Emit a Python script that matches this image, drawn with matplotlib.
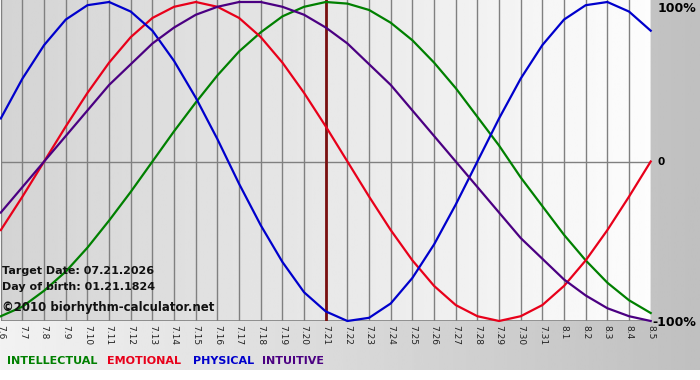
import numpy as np
import matplotlib
matplotlib.use("Agg")
import matplotlib.pyplot as plt

# day labels 7.6 .. 8.5
dates = ["7.%d" % d for d in range(6, 32)] + ["8.%d" % d for d in range(1, 6)]

intellectual = [-0.97, -0.91, -0.81, -0.69, -0.54, -0.37, -0.19, 0.00, 0.19, 0.37, 0.54,
                0.69, 0.81, 0.91, 0.97, 1.00, 0.99, 0.95, 0.87, 0.76, 0.62, 0.46, 0.28,
                0.10, -0.10, -0.28, -0.46, -0.62, -0.76, -0.87, -0.95]
emotional = [-0.43, -0.22, 0.00, 0.22, 0.43, 0.62, 0.78, 0.90, 0.97, 1.00, 0.97, 0.90,
             0.78, 0.62, 0.43, 0.22, 0.00, -0.22, -0.43, -0.62, -0.78, -0.90, -0.97,
             -1.00, -0.97, -0.90, -0.78, -0.62, -0.43, -0.22, 0.00]
physical = [0.27, 0.52, 0.73, 0.89, 0.98, 1.00, 0.94, 0.82, 0.63, 0.40, 0.14, -0.14,
            -0.40, -0.63, -0.82, -0.94, -1.00, -0.98, -0.89, -0.73, -0.52, -0.27, 0.00,
            0.27, 0.52, 0.73, 0.89, 0.98, 1.00, 0.94, 0.82]
intuitive = [-0.32, -0.16, 0.00, 0.16, 0.32, 0.48, 0.61, 0.74, 0.84, 0.92, 0.97, 1.00,
             1.00, 0.97, 0.92, 0.84, 0.74, 0.61, 0.48, 0.32, 0.16, 0.00, -0.16, -0.32,
             -0.48, -0.61, -0.74, -0.84, -0.92, -0.97, -1.00]
target_day = "7.21"

W, H = 700, 380
fig = plt.figure(figsize=(7, 3.8), dpi=100)
fig.patch.set_facecolor("white")

# outer grey gradient
bg = fig.add_axes([0, 10 / H, 1, 370 / H], zorder=-2)
g = np.linspace(0.95, 0.75, 256).reshape(1, -1)
bg.imshow(g, cmap="gray", vmin=0, vmax=1, aspect="auto", extent=[0, 1, 0, 1])
bg.axis("off")

ax = fig.add_axes([0.8 / W, 1 - 321 / H, 649.9 / W, 321 / H])
x = np.arange(len(dates))
top = 1 + 2 / 159.5
ax.set_xlim(0, len(dates) - 1)
ax.set_ylim(-1, top)
pg = np.linspace(0.83, 0.99, 256).reshape(1, -1)
ax.imshow(pg, cmap="gray", vmin=0, vmax=1, aspect="auto",
          extent=[0, len(dates) - 1, -1, top], zorder=0)

for xi in x:
    ax.axvline(xi, color="#808080", lw=1, zorder=1)
ax.axhline(0, color="#808080", lw=1, zorder=1)
ax.axhline(-1, color="#808080", lw=1.2, zorder=1)

ax.axvline(dates.index(target_day), color="#7a1010", lw=2, zorder=2)

ax.plot(x, intellectual, color="#008000", lw=1.6, zorder=3, clip_on=False)
ax.plot(x, emotional, color="#e8001a", lw=1.6, zorder=3, clip_on=False)
ax.plot(x, physical, color="#0000cc", lw=1.6, zorder=3, clip_on=False)
ax.plot(x, intuitive, color="#4b0082", lw=1.6, zorder=3, clip_on=False)

ax.set_xticks(x)
ax.set_xticklabels(dates, rotation=-90, fontsize=6.5, color="#222222")
ax.tick_params(axis="x", length=0, pad=3)
ax.set_yticks([])
for s in ax.spines.values():
    s.set_visible(False)

tf = dict(fontweight="bold", color="#111111", va="center", ha="left", zorder=5)
fig.text(2 / W, 1 - 271 / H, "Target Date: 07.21.2026", fontsize=8, **tf)
fig.text(2 / W, 1 - 287 / H, "Day of birth: 01.21.1824", fontsize=8, **tf)
fig.text(2 / W, 1 - 307 / H, "\u00a92010 biorhythm-calculator.net", fontsize=8.5, **tf)

fig.text(658 / W, 1 - 8 / H, "100%", fontsize=9, fontweight="bold", va="center", ha="left")
fig.text(657 / W, 1 - 162 / H, "0", fontsize=7.5, fontweight="bold", va="center", ha="left")
fig.text(652 / W, 1 - 322 / H, "-100%", fontsize=9, fontweight="bold", va="center", ha="left")

legend = [("INTELLECTUAL", "#008000", 7), ("EMOTIONAL", "#e8001a", 107),
          ("PHYSICAL", "#0000cc", 193), ("INTUITIVE", "#4b0082", 262)]
for name, col, px in legend:
    fig.text(px / W, 1 - 361 / H, name, color=col, fontsize=8, fontweight="bold",
             va="center", ha="left")

fig.savefig("out.png", dpi=100)
